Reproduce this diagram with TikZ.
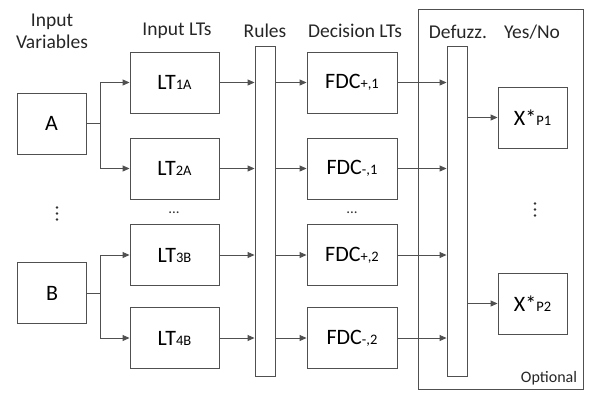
\documentclass[tikz,border=0pt]{standalone}
\usepackage{fontspec}
\setmainfont{Carlito}
\usetikzlibrary{arrows.meta}
\definecolor{ln}{HTML}{505050}
\tikzset{
  box/.style={draw=ln, line width=0.9pt, minimum width=69pt, minimum height=61pt, inner sep=0pt, font=\fontsize{22}{22}\selectfont, text=black},
  ltbox/.style={box, minimum width=89pt},
  bar/.style={draw=ln, line width=0.9pt, minimum width=20pt, minimum height=330pt, inner sep=0pt},
  hdr/.style={font=\fontsize{19.5}{22}\selectfont, text=black!85, align=center, inner sep=0pt},
  arr/.style={draw=ln, line width=0.9pt, -{Triangle[length=7pt,width=6pt]}},
  ln/.style={draw=ln, line width=0.9pt},
  dot/.style={fill=black!80, draw=none},
  hdots/.style={font=\fontsize{15}{15}\selectfont, text=black!80, inner sep=0pt},
}
\newcommand{\sbs}[1]{{\fontsize{14.5}{14.5}\selectfont #1}}
\begin{document}
\begin{tikzpicture}[x=1pt,y=-1pt]
\useasboundingbox (0,0) rectangle (589,392);
% optional frame
\draw[ln] (418.5,9) rectangle (583,389);
% headers
\node[hdr] (hIV) at (52,31) {Input\\Variables};
\node[hdr] (hIL) at (177,31) {Input LTs};
\node[hdr] (hR) at (265,31) {Rules};
\node[hdr] (hDL) at (355,31) {Decision LTs};
\node[hdr] (hDF) at (458,32) {Defuzz.};
\node[hdr] (hYN) at (532,32) {Yes/No};
\node[hdr, font=\fontsize{16}{16}\selectfont] (hOp) at (549,378) {Optional};
% inputs
\node[box] (A) at (51.5,123.5) {A};
\node[box] (B) at (52,293) {B};
% input LTs
\node[ltbox] (L1) at (174.5,82.5) {LT\sbs{1A}};
\node[ltbox] (L2) at (174.5,168.5) {LT\sbs{2A}};
\node[ltbox] (L3) at (174.5,255) {LT\sbs{3B}};
\node[ltbox] (L4) at (174.5,338) {LT\sbs{4B}};
% rules bar
\node[bar] (R) at (265,211) {};
% decision LTs
\node[ltbox, minimum width=90pt] (D1) at (352,82.5) {FDC\sbs{+,1}};
\node[ltbox, minimum width=90pt] (D2) at (352,168.5) {FDC\sbs{-,1}};
\node[ltbox, minimum width=90pt] (D3) at (352,255) {FDC\sbs{+,2}};
\node[ltbox, minimum width=90pt] (D4) at (352,338) {FDC\sbs{-,2}};
% defuzz bar
\node[bar] (F) at (457,211) {};
% outputs
\node[box] (X1) at (532.5,117.5) {X*\sbs{P1}};
\node[box] (X2) at (532.5,303.5) {X*\sbs{P2}};
% vertical dots
\foreach \y in {207.5,213.5,219.5} \fill[dot] (57,\y) circle (1.3pt);
\foreach \y in {203.5,209.5,215.5} \fill[dot] (535,\y) circle (1.3pt);
% horizontal dots
\node[hdots] (dL) at (174,213) {...};
\node[hdots] (dD) at (352,213) {...};
% junctions
\coordinate (jA) at (100,123.5);
\coordinate (jB) at (100,293);
\draw[ln] (A.east) -- (jA);
\draw[arr] (jA) |- (L1.west);
\draw[arr] (jA) |- (L2.west);
\draw[ln] (B.east) -- (jB);
\draw[arr] (jB) |- (L3.west);
\draw[arr] (jB) |- (L4.west);
\foreach \i in {1,2,3,4} {
  \draw[arr] (L\i.east) -- (L\i.east -| R.west);
  \draw[arr] (R.east |- D\i.west) -- (D\i.west);
  \draw[arr] (D\i.east) -- (D\i.east -| F.west);
}
\draw[arr] (F.east |- X1.west) -- (X1.west);
\draw[arr] (F.east |- X2.west) -- (X2.west);
\end{tikzpicture}
\end{document}
